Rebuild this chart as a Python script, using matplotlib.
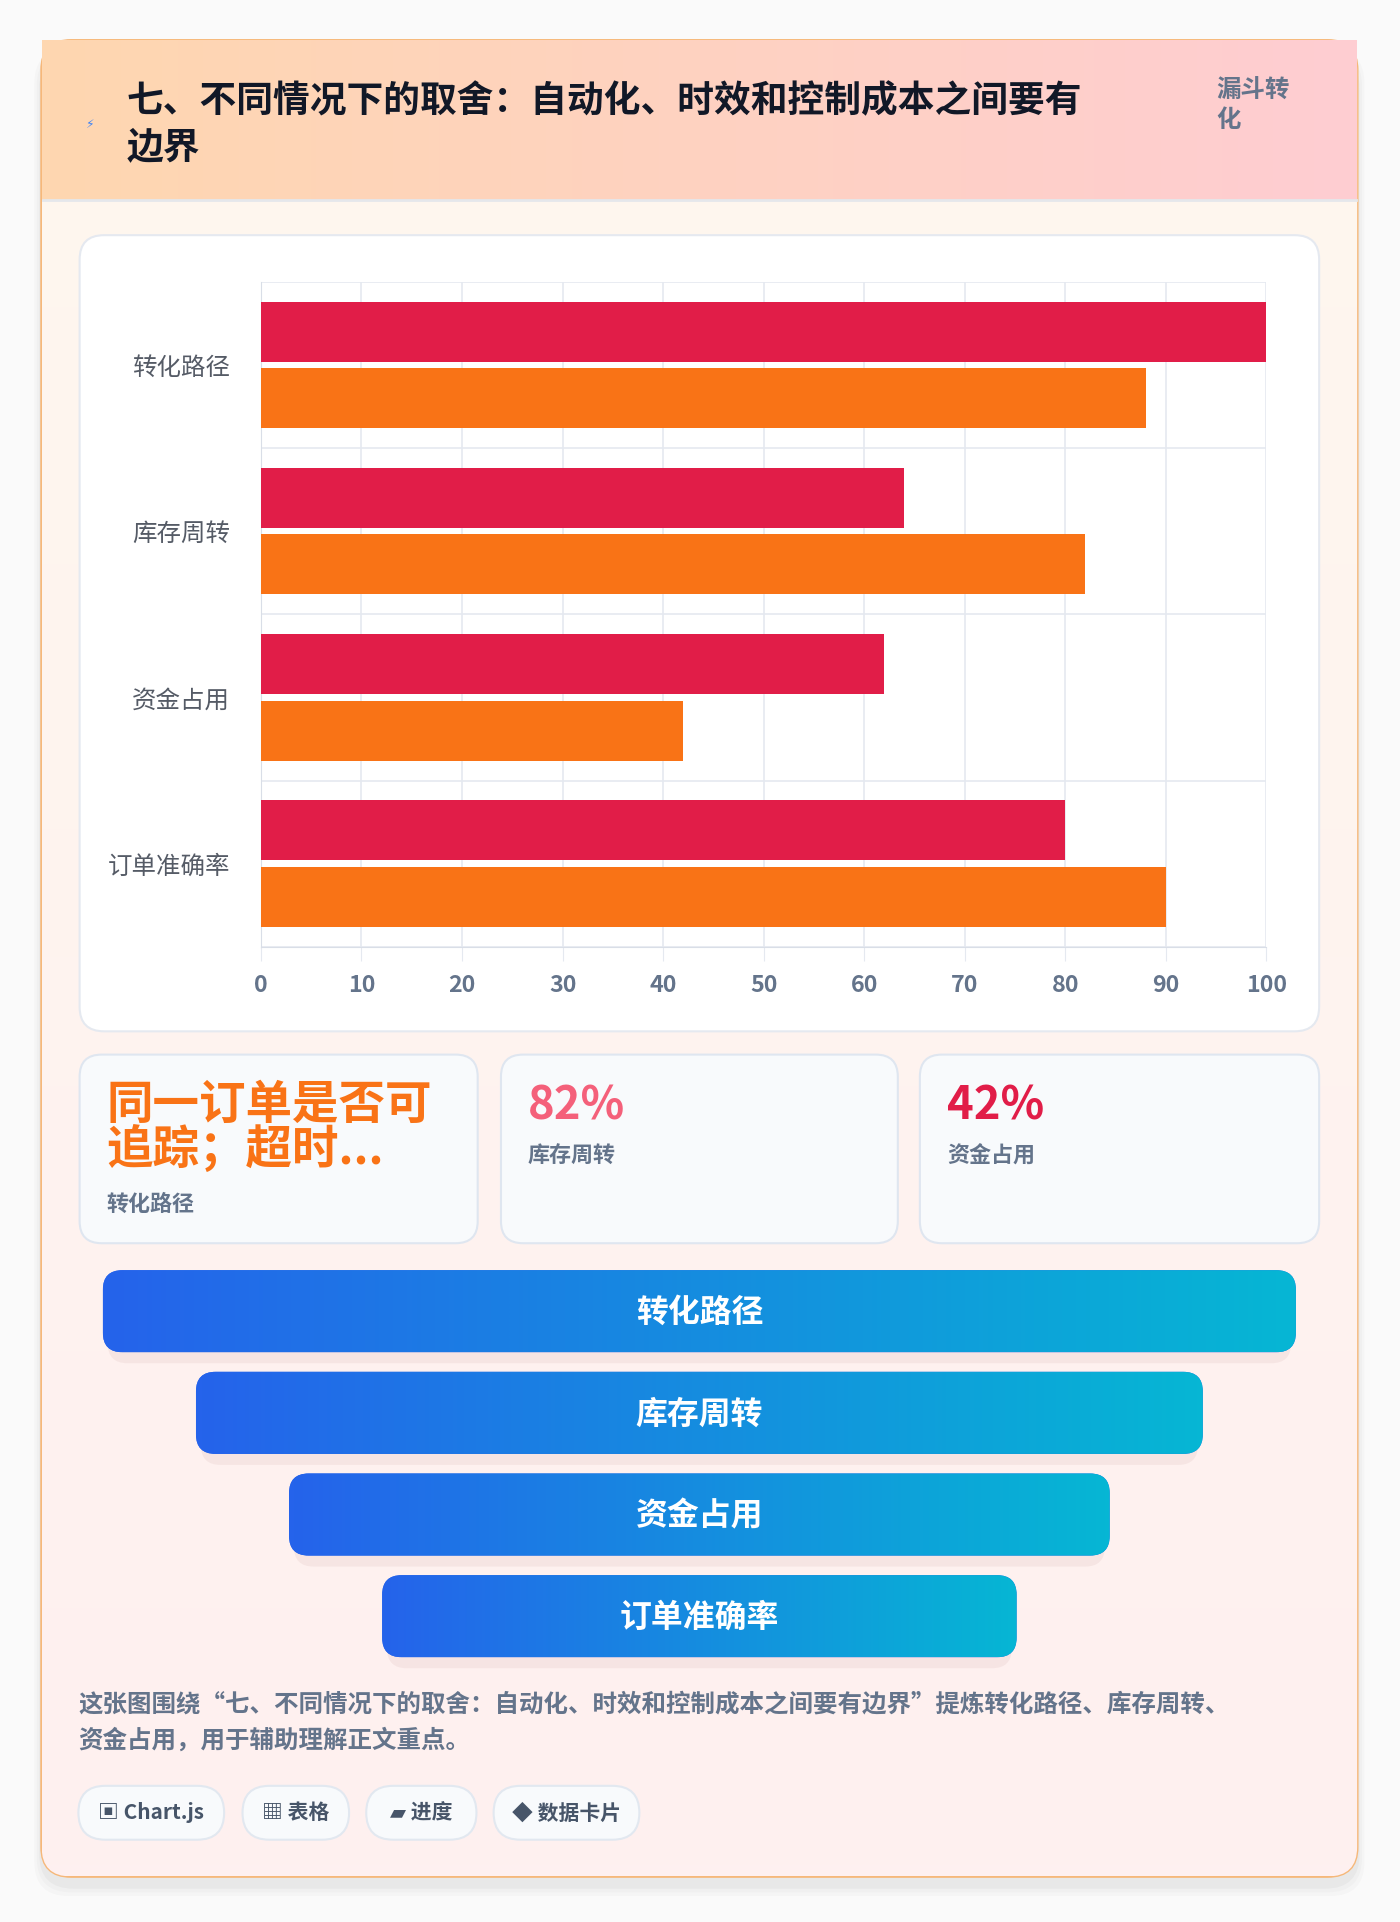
import numpy as np
import matplotlib
matplotlib.use("Agg")
import matplotlib.pyplot as plt
from matplotlib.patches import FancyBboxPatch
from matplotlib.colors import LinearSegmentedColormap

plt.rcParams['font.family'] = ['Noto Sans CJK SC', 'DejaVu Sans']

# data
title = "七、不同情况下的取舍：自动化、时效和控制成本之间要有\n边界"
badge = "漏斗转\n化"
categories = ["转化路径", "库存周转", "资金占用", "订单准确率"]
series_a = [100, 64, 62, 80]
series_b = [88, 82, 42, 90]
card_values = ["同一订单是否可\n追踪；超时...", "82%", "42%"]
card_labels = ["转化路径", "库存周转", "资金占用"]
card_colors = ["#f97316", "#f4607a", "#e11d48"]
funnel_steps = ["转化路径", "库存周转", "资金占用", "订单准确率"]
desc = "这张图围绕“七、不同情况下的取舍：自动化、时效和控制成本之间要有边界”提炼转化路径、库存周转、\n资金占用，用于辅助理解正文重点。"
tags = ["▣ Chart.js", "▦ 表格", "▰ 进度", "◆ 数据卡片"]

W, H = 1400, 1922
S = 1400 / 1143  # reference display -> output pixels
def P(v): return v * S
def FS(px): return px * S * 0.72

fig = plt.figure(figsize=(14, 19.22), dpi=100)
fig.patch.set_facecolor("#fafafa")
bg = fig.add_axes([0, 0, 1, 1])
bg.set_xlim(0, W); bg.set_ylim(H, 0); bg.axis("off")

def rbox(x0, y0, x1, y1, r, fc, ec="none", lw=1, z=1):
    p = FancyBboxPatch((P(x0), P(y0)), P(x1 - x0), P(y1 - y0),
                       boxstyle=f"round,pad=0,rounding_size={P(r)}",
                       fc=fc, ec=ec, lw=lw, zorder=z)
    bg.add_patch(p)
    return p

def grad(patch, x0, y0, x1, y1, c0, c1, z, vertical=False):
    cmap = LinearSegmentedColormap.from_list("g", [c0, c1])
    g = np.linspace(0, 1, 256).reshape(1, -1)
    if vertical:
        g = g.T
    im = bg.imshow(g, cmap=cmap, extent=[P(x0), P(x1), P(y1), P(y0)],
                   aspect="auto", zorder=z, interpolation="bilinear")
    im.set_clip_path(patch)

# shadow + card
for i, a in enumerate([0.02, 0.02, 0.03]):
    rbox(34 - 6 + i * 2, 40 + i * 2, 1108 + 6 - i * 2, 1548 - i * 3, 28, (0, 0, 0, a), z=0.5)
card = rbox(34, 33, 1108, 1532, 24, "#fef2f0", ec="#f6b87a", lw=2, z=1)
grad(card, 34, 33, 1108, 1532, "#fff7ee", "#fef0f0", 1.1, vertical=True)
# header
hdr = FancyBboxPatch((P(34), P(33)), P(1074), P(130), boxstyle="square,pad=0", fc="none", ec="none")
bg.add_patch(hdr)
grad(hdr, 34, 33, 1108, 163, "#fed7b0", "#fecdd2", 1.2)
bg.plot([P(35), P(1107)], [P(163), P(163)], color="#e5e7eb", lw=2, zorder=1.3)
bg.text(P(70), P(102), "⚡", color="#3b82f6", fontsize=FS(10), ha="left", va="center",
        zorder=2, family=["DejaVu Sans"])
bg.text(P(103), P(102), title, color="#111827", fontsize=FS(30), fontweight="bold",
        ha="left", va="center", linespacing=1.3, zorder=2)
bg.text(P(993), P(86), badge, color="#64748b", fontsize=FS(20), fontweight="bold",
        ha="left", va="center", linespacing=1.25, zorder=2)

# chart panel
rbox(65, 192, 1077, 842, 20, "white", ec="#e5e9f0", lw=1.5, z=2)
ax = fig.add_axes([P(213) / W, 1 - P(773) / H, P(1034 - 213) / W, P(773 - 230) / H])
ax.set_zorder(3)
ax.patch.set_alpha(0)
y = np.arange(len(categories))
h = 0.36
ax.barh(y - 0.2, series_a, height=h, color="#e11d48", zorder=3)
ax.barh(y + 0.2, series_b, height=h, color="#f97316", zorder=3)
ax.set_xlim(0, 100)
ax.set_ylim(len(categories) - 0.5, -0.5)
ax.set_yticks(y)
ax.set_yticklabels(categories, fontsize=FS(20), color="#555b66")
ax.set_yticks(np.arange(-0.5, len(categories)), minor=True)
ax.set_xticks(np.arange(0, 101, 10))
ax.set_xticklabels([str(v) for v in range(0, 101, 10)], fontsize=FS(19),
                   color="#64748b", fontweight="bold")
ax.grid(axis="x", color="#e5e9f0", lw=1.2, zorder=0)
ax.grid(axis="y", which="minor", color="#e5e9f0", lw=1.2, zorder=0)
ax.tick_params(axis="y", which="both", length=0, pad=P(18))
ax.tick_params(axis="x", length=P(8), color="#e5e9f0", pad=P(8))
for sp in ["top", "right"]:
    ax.spines[sp].set_visible(False)
ax.spines["left"].set_color("#d9dee7")
ax.spines["bottom"].set_color("#d9dee7")

# stat cards
card_x = [(65, 390), (409, 733), (751, 1077)]
for i, (x0, x1) in enumerate(card_x):
    rbox(x0, 861, x1, 1015, 18, "#f8fafc", ec="#dfe6f0", lw=1.5, z=2)
    if i == 0:
        bg.text(P(x0 + 22), P(921), card_values[i], color=card_colors[i], fontsize=FS(38),
                fontweight="bold", ha="left", va="center", linespacing=0.95, zorder=3)
        bg.text(P(x0 + 22), P(983), card_labels[i], color="#64748b", fontsize=FS(18),
                fontweight="bold", ha="left", va="center", zorder=3)
    else:
        bg.text(P(x0 + 22), P(903), card_values[i], color=card_colors[i], fontsize=FS(37),
                fontweight="bold", ha="left", va="center", zorder=3)
        bg.text(P(x0 + 22), P(944), card_labels[i], color="#64748b", fontsize=FS(18),
                fontweight="bold", ha="left", va="center", zorder=3)

# funnel
cx = 571
for i, name in enumerate(funnel_steps):
    half = 487 - i * 76
    y0 = 1037 + i * 83
    rbox(cx - half + 4, y0 + 10, cx + half - 4, y0 + 76, 16, (0.5, 0.2, 0.2, 0.06), z=1.5)
    bar = rbox(cx - half, y0, cx + half, y0 + 67, 16, "#2563eb", z=2)
    grad(bar, cx - half, y0, cx + half, y0 + 67, "#2563eb", "#06b6d4", 2.1)
    bg.text(P(cx), P(y0 + 35), name, color="white", fontsize=FS(26), fontweight="bold",
            ha="center", va="center", zorder=3)

bg.text(P(64), P(1406), desc, color="#64748b", fontsize=FS(20), fontweight="bold",
        ha="left", va="center", linespacing=1.6, zorder=3)

tag_x = [(64, 183), (198, 285), (299, 389), (403, 522)]
for t, (x0, x1) in zip(tags, tag_x):
    rbox(x0, 1458, x1, 1502, 22, "#f8fafc", ec="#e2e8f0", lw=1.5, z=2)
    bg.text(P((x0 + x1) / 2), P(1480), t, color="#475569", fontsize=FS(17),
            fontweight="bold", ha="center", va="center", zorder=3)

fig.savefig("out.png", dpi=100, facecolor=fig.get_facecolor())
